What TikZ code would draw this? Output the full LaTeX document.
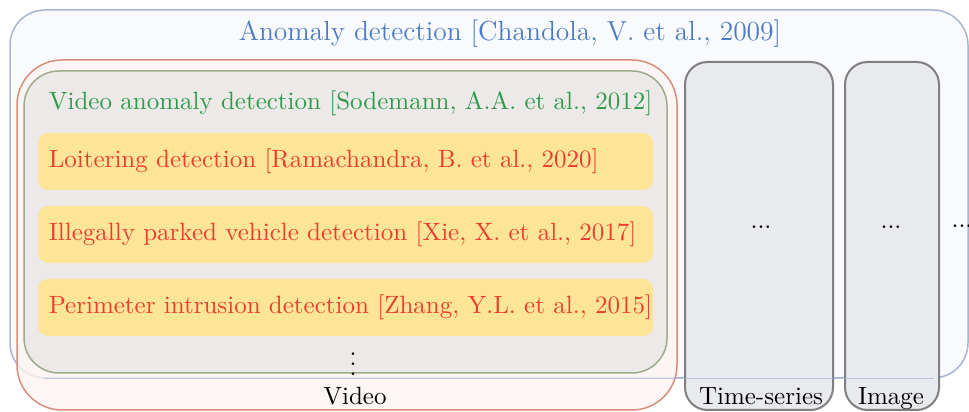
\documentclass[tikz,border=0pt]{standalone}
\usepackage{tikz}
\usetikzlibrary{positioning}

\definecolor{adblue}{HTML}{4A7BC4}
\definecolor{adline}{HTML}{A8B6D2}
\definecolor{adfill}{HTML}{F9FAFD}
\definecolor{vidline}{HTML}{D98D7B}
\definecolor{vidfill}{HTML}{FCF4F1}
\definecolor{vadgreen}{HTML}{2E9B4A}
\definecolor{vadline}{HTML}{9DAC8C}
\definecolor{vadfill}{HTML}{ECE9E8}
\definecolor{taskred}{HTML}{EE3B32}
\definecolor{taskfill}{HTML}{FDE597}
\definecolor{domfill}{HTML}{E9EAEE}

\tikzset{
  roundbox/.style={rounded corners=#1, inner sep=0pt},
  domainbox/.style={roundbox=9pt, draw=black!50, line width=0.8pt, fill=domfill},
  taskbox/.style={roundbox=4pt, fill=taskfill},
  boxlabel/.style={anchor=base},
}

\begin{document}
\begin{tikzpicture}[x=0.4pt,y=-0.4pt]
\def\pxu{0.4pt} % one pixel of the layout
\useasboundingbox (0,0) rectangle (969,412);

% outer box
\node[roundbox=14pt, draw=adline, fill=adfill, line width=0.6pt,
      minimum width=958*\pxu, minimum height=368*\pxu] (anomaly) at (489,194) {};
\node[text=adblue, font=\fontsize{11}{13}\selectfont] (anomalytitle) at (510,34) {Anomaly detection [Chandola, V. et al., 2009]};

% video domain
\node[roundbox=18pt, draw=vidline, fill=vidfill, fill opacity=0.8, line width=0.6pt,
      minimum width=660*\pxu, minimum height=350*\pxu] (video) at (347,235) {};
\node[boxlabel] (videolabel) at (355,405) {Video};

\node[roundbox=14pt, draw=vadline, fill=vadfill, line width=0.6pt,
      minimum width=643*\pxu, minimum height=302*\pxu] (vad) at (345.5,222) {};
\node[text=vadgreen, anchor=west] (vadtitle) at (40,103) {Video anomaly detection [Sodemann, A.A. et al., 2012]};

\foreach \yc/\txt [count=\i] in {161.5/{Loitering detection [Ramachandra, B. et al., 2020]},
                                234.5/{Illegally parked vehicle detection [Xie, X. et al., 2017]},
                                307.5/{Perimeter intrusion detection [Zhang, Y.L. et al., 2015]}}
{
\node[taskbox, minimum width=615*\pxu, minimum height=57*\pxu] (task\i) at (345.5,\yc) {};
\node[text=taskred, anchor=west] (tasktext\i) at (40,\yc) {\txt};
}
\node (taskmore) at (353,357) {$\vdots$};

% other domains
\node[domainbox, minimum width=148*\pxu, minimum height=348*\pxu] (timeseries) at (759,236) {};
\node[boxlabel] (timeserieslabel) at (761,405) {Time-series};
\node (timeseriesmore) at (761,227) {...};

\node[domainbox, minimum width=94*\pxu, minimum height=348*\pxu] (image) at (892,236) {};
\node[boxlabel] (imagelabel) at (891,405) {Image};
\node (imagemore) at (891,227) {...};

\node (domainmore) at (962,226) {...};

% outer border again, seen over the domains
\draw[adline, line width=0.6pt, opacity=0.7]
  (anomaly.south west) ++(14pt,0) -- ([xshift=-14pt]anomaly.south east);
\end{tikzpicture}
\end{document}
